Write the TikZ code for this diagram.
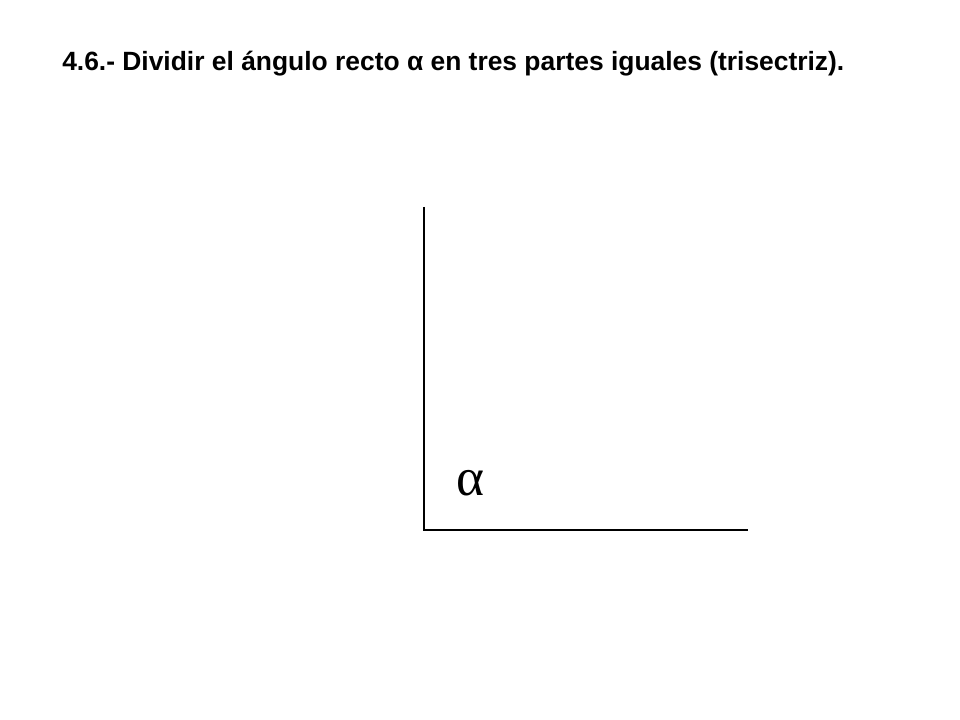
\documentclass[tikz,border=0pt]{standalone}
\usepackage{fontspec}
\setmainfont{Liberation Sans}
\newfontfamily\serifalpha{Liberation Serif}
\usetikzlibrary{positioning}
\tikzset{
  titulo/.style={anchor=base west,font=\bfseries\fontsize{19.8}{23}\selectfont,inner sep=0pt},
  lado/.style={line width=1.5pt,black},
  angulo/.style={font=\serifalpha\fontsize{40}{46}\selectfont,inner sep=0pt}
}
\begin{document}
\begin{tikzpicture}[x=0.75pt,y=-0.75pt]
  \useasboundingbox (0,0) rectangle (960,720);
  \node[titulo] (T) at (62,71) {4.6.- Dividir el ángulo recto α en tres partes iguales (trisectriz).};
  % vertice y lados del angulo
  \coordinate (O) at (424,530);
  \coordinate (A) at (424,207);
  \coordinate (B) at (748,530);
  \draw[lado] (A) -- (O) -- (B);
  \node[angulo] (alfa) at (470,483) {α};
\end{tikzpicture}
\end{document}
